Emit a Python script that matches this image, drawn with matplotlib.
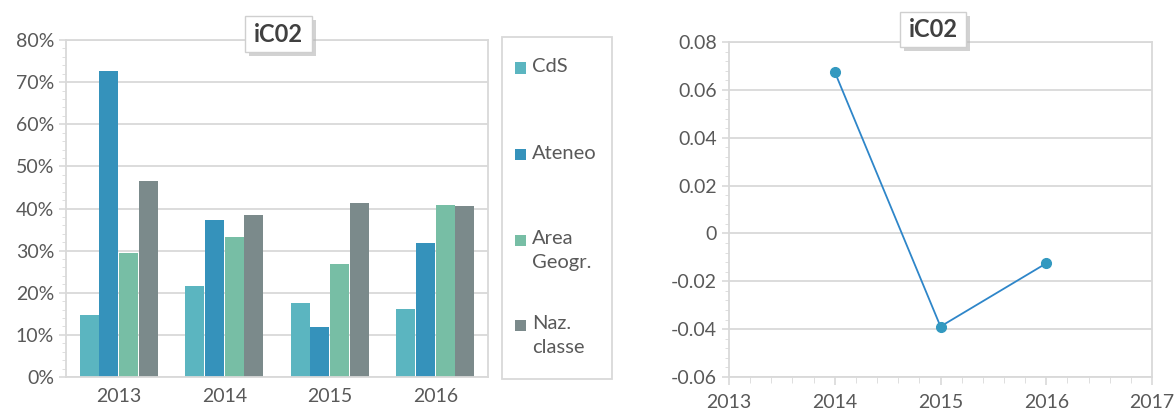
import matplotlib
matplotlib.use("Agg")
import matplotlib.pyplot as plt
from matplotlib.patches import Rectangle
from matplotlib.ticker import MultipleLocator, FuncFormatter
import numpy as np

# dati
anni = ["2013", "2014", "2015", "2016"]
serie = ["CdS", "Ateneo", "Area\nGeogr.", "Naz.\nclasse"]
cds = [0.147, 0.215, 0.176, 0.162]
ateneo = [0.727, 0.373, 0.119, 0.319]
area = [0.294, 0.333, 0.269, 0.409]
naz = [0.466, 0.384, 0.413, 0.405]
valori = [cds, ateneo, area, naz]

anni_var = [2014, 2015, 2016]
variazione = [0.0675, -0.0389, -0.0125]

COLORI = ["#5bb5c0", "#3592bb", "#77bea5", "#7b8a8b"]
GRIGIO = "#d9d9d9"
TESTO = "#595959"

plt.rcParams.update({"font.family": ["Lato", "DejaVu Sans"], "font.size": 14})

W, H = 1175, 413
fig = plt.figure(figsize=(W / 100, H / 100), dpi=100)


def px(x0, y0, x1, y1):
    return [x0 / W, 1 - y1 / H, (x1 - x0) / W, (y1 - y0) / H]


def rett(x0, y0, x1, y1, **kw):
    fig.patches.append(Rectangle((x0 / W, 1 - y1 / H), (x1 - x0) / W, (y1 - y0) / H,
                                 transform=fig.transFigure, **kw))


def stile(ax):
    for s in ax.spines.values():
        s.set_color(GRIGIO); s.set_linewidth(1.3)
    ax.grid(axis="y", color=GRIGIO, linewidth=1.3)
    ax.set_axisbelow(True)
    ax.tick_params(colors=GRIGIO, labelcolor=TESTO, labelsize=14, width=1.2)
    ax.tick_params(axis="y", which="major", length=5)
    ax.tick_params(axis="y", which="minor", length=3, color=GRIGIO)


def titolo(x0, y0, x1, y1):
    # ombra + riquadro del titolo
    rett(x0 + 4, y0 + 4, x1 + 4, y1 + 4, fc="#b5b5b5", ec="none", alpha=0.6, zorder=5)
    rett(x0, y0, x1, y1, fc="white", ec="#cfcfcf", lw=1, zorder=6)
    fig.text((x0 + x1) / 2 / W, 1 - (y0 + y1) / 2 / H, "iC02", fontsize=17,
             fontweight="bold", color="#404040", ha="center", va="center", zorder=7)


# ── grafico a barre ──
ax1 = fig.add_axes(px(66, 40, 488, 377))
x = np.arange(len(anni))
for i, v in enumerate(valori):
    ax1.bar(x + (i - 1.5) * 0.185, v, 0.18, color=COLORI[i], zorder=2)
ax1.set_xlim(-0.5, 3.5)
ax1.set_ylim(0, 0.8)
ax1.yaxis.set_major_locator(MultipleLocator(0.1))
ax1.yaxis.set_minor_locator(MultipleLocator(0.02))
ax1.yaxis.set_major_formatter(FuncFormatter(lambda v, p: f"{v * 100:.0f}%"))
ax1.set_xticks(x)
ax1.set_xticklabels(anni)
stile(ax1)
ax1.tick_params(axis="x", length=0, pad=8)

# legenda
rett(502, 37, 612, 379, fc="white", ec=GRIGIO, lw=1.3)
ypos = [68, 155, 240, 325]
for i, (lab, yy) in enumerate(zip(serie, ypos)):
    rett(515, yy - 5.5, 526, yy + 5.5, fc=COLORI[i], ec="none")
    fig.text(532 / W, 1 - (yy - 10) / H, lab, fontsize=14.5, color=TESTO,
             ha="left", va="top", linespacing=1.5)

titolo(245, 16, 312, 52)

# ── grafico a linee ──
ax2 = fig.add_axes(px(729, 42, 1152, 377))
ax2.plot(anni_var, variazione, color="#2e86c9", linewidth=1.3, marker="o",
         markersize=7, markerfacecolor="#3399c0", markeredgecolor="#3399c0")
ax2.set_xlim(2013, 2017)
ax2.set_ylim(-0.06, 0.08)
ax2.xaxis.set_major_locator(MultipleLocator(1))
ax2.xaxis.set_minor_locator(MultipleLocator(0.2))
ax2.yaxis.set_major_locator(MultipleLocator(0.02))
ax2.yaxis.set_minor_locator(MultipleLocator(0.004))
ax2.yaxis.set_major_formatter(FuncFormatter(lambda v, p: "0" if abs(v) < 1e-9 else f"{v:.2f}"))
ax2.xaxis.set_major_formatter(FuncFormatter(lambda v, p: f"{v:.0f}"))
stile(ax2)
ax2.tick_params(axis="x", which="major", length=6, pad=6)
ax2.tick_params(axis="x", which="minor", length=4, color=GRIGIO)

titolo(900, 12, 966, 47)

fig.savefig("out.png", dpi=100)
